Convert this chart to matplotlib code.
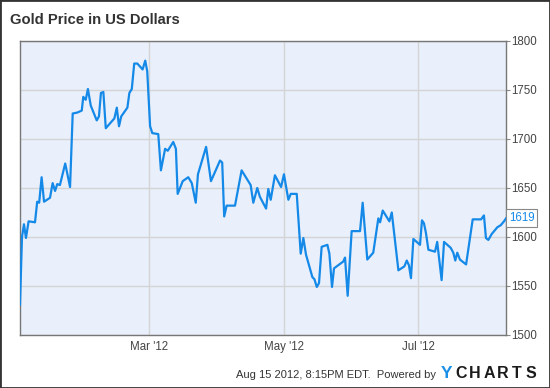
import numpy as np
import pandas as pd
import matplotlib
matplotlib.use("Agg")
import matplotlib.pyplot as plt
import matplotlib.dates as mdates
from matplotlib.patches import Rectangle
from matplotlib.transforms import blended_transform_factory

plt.rcParams['font.family'] = ['Liberation Sans', 'DejaVu Sans']

# ==============================================================================
# DADOS
# ==============================================================================
# dias contados a partir de 2012-01-01
days = [1.5, 2.4, 3.3, 4.2, 5.4, 8.3, 9.3, 10.2, 11.3, 12.4, 15.1, 16.3, 17.4,
        18.4, 19.6, 22.0, 24.2, 25.4, 27.5, 29.5, 30.2, 31.3, 32.3, 33.6, 36.3,
        37.3, 38.2, 39.3, 40.4, 44.3, 45.4, 46.4, 47.4, 50.2, 51.1, 52.2, 53.3,
        54.7, 57.1, 58.3, 59.2, 60.5, 61.5, 64.2, 65.4, 67.3, 68.5, 71.0, 72.2,
        73.0, 75.3, 77.8, 79.4, 81.2, 82.2, 85.9, 88.1, 92.2, 93.2, 94.1, 95.2,
        99.0, 102.0, 106.1, 107.3, 109.1, 110.3, 113.1, 114.1, 115.2, 117.1,
        119.9, 121.2, 123.2, 124.3, 127.0, 128.8, 130.0, 131.2, 134.1, 135.0,
        136.1, 137.1, 138.3, 140.9, 141.8, 143.0, 143.9, 148.1, 148.9, 150.1,
        151.9, 155.7, 156.9, 159.0, 161.7, 164.0, 164.8, 166.0, 169.0, 170.1,
        173.1, 175.8, 176.9, 177.9, 178.8, 179.9, 182.9, 183.8, 184.7, 185.6,
        186.7, 189.7, 190.7, 192.7, 193.8, 196.8, 198.0, 198.9, 199.8, 201.0,
        203.8, 206.8, 210.6, 211.9, 212.8, 213.9, 215.4, 218.0, 219.5, 221.0,
        221.9]
prices = [1531, 1600, 1613, 1599, 1616, 1615, 1636, 1635, 1661, 1636, 1640, 1655, 1647,
          1654, 1653, 1675, 1651, 1726, 1727, 1729, 1743, 1740, 1751, 1734, 1719,
          1723, 1747, 1748, 1711, 1721, 1732, 1713, 1723, 1732, 1747, 1751, 1777,
          1777, 1771, 1780, 1769, 1713, 1706, 1705, 1668, 1690, 1688, 1697, 1690,
          1644, 1657, 1661, 1655, 1635, 1664, 1692, 1657, 1678, 1676, 1621, 1632,
          1632, 1668, 1653, 1635, 1650, 1641, 1629, 1649, 1638, 1663,
          1651, 1664, 1638, 1644, 1644, 1583, 1599, 1582, 1559, 1557,
          1549, 1553, 1590, 1592, 1583, 1549, 1568, 1575, 1579, 1540,
          1606, 1606, 1635, 1577, 1584, 1619, 1615, 1627, 1616, 1625,
          1566, 1570, 1576, 1571, 1558, 1598, 1592, 1617, 1614, 1604,
          1587, 1585, 1595, 1556, 1595, 1589, 1584, 1576, 1584, 1577,
          1572, 1618, 1618, 1622, 1599, 1597, 1603, 1610, 1612, 1616,
          1619]
y_ticks = [1500, 1550, 1600, 1650, 1700, 1750, 1800]
last_label = "1619"

TITLE = "Gold Price in US Dollars"
FOOTER = "Aug 15 2012, 8:15PM EDT.  Powered by"
LOGO_LETTERS = ["C", "H", "A", "R", "T", "S"]

LINE_COLOR = "#1589e8"
BG_COLOR = "#e9f0fc"

# ==============================================================================
# GRÁFICO
# ==============================================================================
dates = pd.Timestamp("2012-01-01") + pd.to_timedelta(days, unit="D")

W, H = 550, 388
fig = plt.figure(figsize=(W / 100, H / 100), dpi=100)
fig.patches.append(Rectangle((0, 0), 1, 1, transform=fig.transFigure,
                             fill=False, ec="#333333", lw=2.0, zorder=10))

ax = fig.add_axes([20 / W, 53 / H, 486 / W, 294 / H])
ax.set_facecolor(BG_COLOR)
ax.plot(dates, prices, color=LINE_COLOR, lw=1.6, zorder=3)

ax.set_xlim(dates[0], dates[-1])
ax.set_ylim(1500, 1800)
ax.set_yticks(y_ticks)
ax.yaxis.tick_right()
ax.tick_params(axis="y", length=3, color="#888888", labelsize=8.3,
               labelcolor="#444444", pad=1)
ax.xaxis.set_major_locator(mdates.MonthLocator(bymonth=[3, 5, 7]))
ax.xaxis.set_major_formatter(mdates.DateFormatter("%b '%y"))
ax.tick_params(axis="x", length=0, labelsize=8.3, labelcolor="#444444", pad=4)

ax.grid(True, color="#d4d4d4", lw=1.0, zorder=1)
for s in ax.spines.values():
    s.set_color("#777777")
    s.set_linewidth(1.0)

# caixa com o último valor
tr = blended_transform_factory(ax.transAxes, ax.transData)
ax.text(1.006, prices[-1], last_label, transform=tr, ha="left",
        va="center", color=LINE_COLOR, fontsize=8.3,
        bbox=dict(boxstyle="square,pad=0.25", fc="white", ec="#888888", lw=0.8))

fig.text(10 / W, 1 - 20 / H, TITLE, fontsize=10.6, fontweight="bold",
         color="#333333", ha="left", va="center")

fig.text(436 / W, 1 - 375 / H, FOOTER, fontsize=8.0, color="#333333",
         ha="right", va="center")
fig.text(446.5 / W, 1 - 373.5 / H, "Y", fontsize=12.5, fontweight="bold",
         color="#1a8fe6", ha="center", va="center")
for i, letter in enumerate(LOGO_LETTERS):
    fig.text((461 + 14 * i) / W, 1 - 373.5 / H, letter, fontsize=11.5,
             fontweight="bold", color="#1b1b1b", ha="center", va="center")

fig.savefig("out.png", dpi=100)
